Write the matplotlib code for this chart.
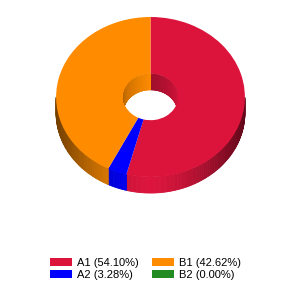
import numpy as np
import matplotlib
matplotlib.use("Agg")
import matplotlib.pyplot as plt
from matplotlib.colors import to_rgb
from matplotlib.collections import PolyCollection
from matplotlib.patches import Circle

plt.rcParams["font.family"] = ["Liberation Sans", "DejaVu Sans"]

names = ["A1", "A2", "B1", "B2"]
percents = [54.10, 3.28, 42.62, 0.00]
colors = ["#DC143C", "#0000FF", "#FF8C00", "#228B22"]

tilt = 0.85      # vertical squash of the disc
depth = 0.2      # thickness of the disc, y data units
hole = 0.29      # inner radius


def wedge_ranges(values):
    """ angular range (deg, math convention) of each slice, clockwise from 12 o'clock """
    frac = np.array(values) / np.sum(values)
    cum = np.concatenate([[0], np.cumsum(frac)])
    return [(90 - 360 * cum[i + 1], 90 - 360 * cum[i]) for i in range(len(values))]


def shade(color, f):
    return tuple(np.clip(np.array(to_rgb(color)) * f, 0, 1))


fig = plt.figure(figsize=(3, 3), dpi=100)
ax = fig.add_axes([32.5 / 300, 87 / 300, 236 / 300, 212 / 300])

ranges = wedge_ranges(percents)

# outer side wall (front half only)
polys, fcs = [], []
for (lo, hi), c in zip(ranges, colors):
    if hi - lo <= 0:
        continue
    t = np.linspace(lo, hi, max(int(hi - lo), 2) + 1)
    for a, b in zip(t[:-1], t[1:]):
        m = np.radians((a + b) / 2)
        if np.sin(m) > 0:
            continue
        ra, rb = np.radians(a), np.radians(b)
        polys.append([(np.cos(ra), np.sin(ra)), (np.cos(rb), np.sin(rb)),
                      (np.cos(rb), np.sin(rb) - depth), (np.cos(ra), np.sin(ra) - depth)])
        fcs.append(shade(c, 1 - 0.55 * abs(np.cos(m)) ** 1.5))
ax.add_collection(PolyCollection(polys, facecolors=fcs, edgecolors=fcs, linewidths=0.6))

# top face
wedges, _ = ax.pie(percents, colors=colors, startangle=90, counterclock=False,
                   radius=1, wedgeprops=dict(width=1 - hole, linewidth=0))

# inner wall of the hole (back half), clipped to the hole
polys, fcs = [], []
for (lo, hi), c in zip(ranges, colors):
    for k in (-360, 0, 360):
        s_lo, s_hi = max(lo + k, 0), min(hi + k, 180)
        if s_hi - s_lo <= 0:
            continue
        t = np.linspace(s_lo, s_hi, max(int(s_hi - s_lo), 2) + 1)
        for a, b in zip(t[:-1], t[1:]):
            m = (a + b) / 2
            f = 0.72 + 0.28 * (s_hi - m) / (s_hi - s_lo)
            ra, rb = np.radians(a), np.radians(b)
            polys.append([(hole * np.cos(ra), hole * np.sin(ra)), (hole * np.cos(rb), hole * np.sin(rb)),
                          (hole * np.cos(rb), hole * np.sin(rb) - depth),
                          (hole * np.cos(ra), hole * np.sin(ra) - depth)])
            fcs.append(shade(c, f))
clip = Circle((0, 0), hole, transform=ax.transData, facecolor="none", edgecolor="none")
ax.add_patch(clip)
inner = PolyCollection(polys, facecolors=fcs, edgecolors=fcs, linewidths=0.6)
ax.add_collection(inner)
inner.set_clip_path(clip)

ax.set_aspect("auto")
ax.set_xlim(-1.25, 1.25)
ax.set_ylim(-1.45, 1.2)
ax.axis("off")

labels = ["{} ({:.2f}%)".format(n, p) for n, p in zip(names, percents)]
fig.legend(wedges, labels, ncol=2, loc="center", bbox_to_anchor=(145.5 / 300, 1 - 269 / 300),
           frameon=False, fontsize=8, handlelength=2.0, handleheight=0.65,
           handletextpad=0.45, columnspacing=1.2, labelspacing=0.2, borderpad=0)

fig.savefig("out.png", dpi=100, facecolor="white")
